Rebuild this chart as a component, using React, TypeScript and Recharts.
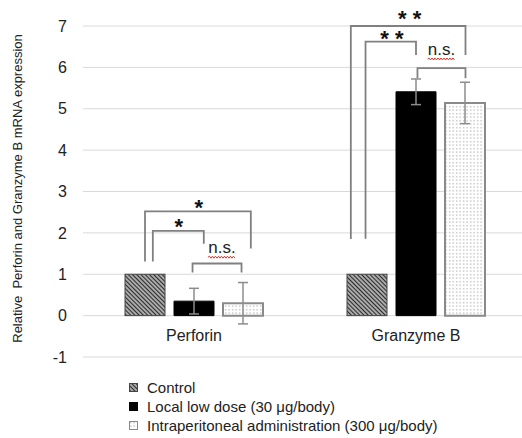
import React from 'react';
import { BarChart, Bar, XAxis, YAxis, CartesianGrid, ErrorBar, Legend } from 'recharts';

const categories = ['Perforin', 'Granzyme B'];
const controlValues = [1, 1];
const localValues = [0.35, 5.41];
const localErrors = [0.31, 0.31];
const ipValues = [0.3, 5.14];
const ipErrors = [0.5, 0.5];
const yTicks = [-1, 0, 1, 2, 3, 4, 5, 6, 7];
const seriesNames = [
  'Control',
  'Local low dose (30 μg/body)',
  'Intraperitoneal administration (300 μg/body)',
];

// significance brackets: ends in bar units (0 = control, 1 = local, 2 = i.p.), heights in data units
type Bracket = {
  from: number;
  to: number;
  top: number;
  dropFrom: number;
  dropTo: number;
  mark: string;
  markAt: number;
  markY: number;
};

const perforinBrackets: Bracket[] = [
  { from: 0, to: 2.16, top: 2.52, dropFrom: 1.31, dropTo: 1.62, mark: '*', markAt: 1.1, markY: 2.72 },
  { from: 0.16, to: 1.2, top: 2.05, dropFrom: 1.31, dropTo: 1.74, mark: '*', markAt: 0.69, markY: 2.27 },
  { from: 0.97, to: 1.97, top: 1.26, dropFrom: 1.04, dropTo: 1.04, mark: 'n.s.', markAt: 1.57, markY: 1.63 },
];

const granzymeBrackets: Bracket[] = [
  { from: -0.33, to: 2.01, top: 7.0, dropFrom: 1.85, dropTo: 6.3, mark: '* *', markAt: 0.87, markY: 7.29 },
  { from: -0.03, to: 1.0, top: 6.62, dropFrom: 1.86, dropTo: 6.3, mark: '* *', markAt: 0.51, markY: 6.81 },
  { from: 1.03, to: 2.01, top: 5.98, dropFrom: 5.74, dropTo: 5.74, mark: 'n.s.', markAt: 1.52, markY: 6.42 },
];

const data = categories.map((name, i) => ({
  name,
  control: controlValues[i],
  local: localValues[i],
  localErr: localErrors[i],
  ip: ipValues[i],
  ipErr: ipErrors[i],
}));

const fontFamily = '"Liberation Sans", Arial, sans-serif';
const BAR_SIZE = 40;
const BAR_GAP = 9;

const wavyPath = (x1: number, x2: number, y: number) => {
  let d = `M${x1},${y}`;
  let up = true;
  for (let x = x1 + 1.5; x <= x2; x += 1.5) {
    d += ` L${x},${y + (up ? -1 : 1)}`;
    up = !up;
  }
  return d;
};

const ControlBar = (props: any) => {
  const { x, y, width, height, payload } = props;
  if (!payload || !height) return <g />;
  const unit = height / payload.control;
  const base = y + height;
  const toY = (v: number) => base - v * unit;
  const toX = (pos: number) => x + width / 2 + pos * (width + BAR_GAP);
  const brackets = payload.name === 'Perforin' ? perforinBrackets : granzymeBrackets;

  return (
    <g>
      <rect x={x} y={y} width={width} height={height} fill="url(#hatch)" stroke="#444" strokeWidth={1} />
      {brackets.map((b, i) => {
        const isNs = b.mark === 'n.s.';
        const cx = toX(b.markAt);
        const cy = toY(b.markY);
        return (
          <g key={i}>
            <path
              d={`M${toX(b.from)},${toY(b.dropFrom)} V${toY(b.top)} H${toX(b.to)} V${toY(b.dropTo)}`}
              fill="none"
              stroke="#808080"
              strokeWidth={1.8}
            />
            {isNs ? (
              <g>
                <text x={cx} y={cy + 5} textAnchor="middle" fontSize={17} fontFamily={fontFamily} fill="#222">
                  {b.mark}
                </text>
                <path d={wavyPath(cx - 14, cx + 14, cy + 9)} fill="none" stroke="#e0342c" strokeWidth={1} />
              </g>
            ) : (
              <text
                x={cx}
                y={cy + 12}
                textAnchor="middle"
                fontSize={22}
                fontWeight="bold"
                fontFamily={fontFamily}
                fill="#111"
                style={{ whiteSpace: 'pre' }}
              >
                {b.mark}
              </text>
            )}
          </g>
        );
      })}
    </g>
  );
};

const CategoryTick = (props: any) => {
  const { x, y, payload } = props;
  return (
    <text x={x} y={y - 16} textAnchor="middle" fontSize={16} fontFamily={fontFamily} fill="#222">
      {payload.value}
    </text>
  );
};

const YLabel = (props: any) => {
  const vb = props.viewBox || { x: 0, y: 0, height: 0 };
  const cx = 17;
  const cy = vb.y + vb.height / 2 - 3;
  return (
    <text
      x={cx}
      y={cy}
      transform={`rotate(-90 ${cx} ${cy})`}
      textAnchor="middle"
      dominantBaseline="central"
      fontSize={13}
      fontFamily={fontFamily}
      fill="#222"
      style={{ whiteSpace: 'pre' }}
    >
      {'Relative  Perforin and Granzyme B mRNA expression'}
    </text>
  );
};

const iconFills = ['url(#hatch)', '#000', 'url(#dots)'];
const iconStrokes = ['#444', '#000', '#8a8a8a'];

const LegendContent = () => (
  <div style={{ fontFamily, fontSize: 15, color: '#222' }}>
    {seriesNames.map((n, i) => (
      <div key={n} style={{ display: 'flex', alignItems: 'center', height: 19 }}>
        <svg width={9} height={9} style={{ marginRight: 9, flexShrink: 0 }}>
          <rect x={0.5} y={0.5} width={8} height={8} fill={iconFills[i]} stroke={iconStrokes[i]} />
        </svg>
        <span style={{ whiteSpace: 'nowrap' }}>{n}</span>
      </div>
    ))}
  </div>
);

export default function App() {
  return (
    <div style={{ position: 'absolute', left: 0, top: 0, width: 522, height: 438, overflow: 'hidden', background: '#fff' }}>
      <svg width={0} height={0} style={{ position: 'absolute' }}>
        <defs>
          <pattern id="hatch" width="3" height="3" patternUnits="userSpaceOnUse" patternTransform="rotate(-45)">
            <rect width="3" height="3" fill="#fff" />
            <line x1="1.5" y1="0" x2="1.5" y2="3" stroke="#2a2a2a" strokeWidth="1.8" />
          </pattern>
          <pattern id="dots" width="3.5" height="3.5" patternUnits="userSpaceOnUse">
            <rect width="3.5" height="3.5" fill="#fff" />
            <rect x="1" y="1" width="1.3" height="1.3" fill="#b4b4b4" />
          </pattern>
        </defs>
      </svg>
      <BarChart
        width={527}
        height={438}
        data={data}
        margin={{ top: 26, right: 0, left: 0, bottom: 80 }}
        barSize={BAR_SIZE}
        barGap={BAR_GAP}
      >
        <CartesianGrid vertical={false} stroke="#d9d9d9" />
        <XAxis
          dataKey="name"
          axisLine={false}
          tickLine={false}
          tickSize={0}
          tickMargin={0}
          height={1}
          tick={<CategoryTick />}
          interval={0}
        />
        <YAxis
          domain={[-1, 7]}
          ticks={yTicks}
          axisLine={false}
          tickLine={false}
          tickSize={0}
          tickMargin={16}
          width={83}
          tick={{ fontSize: 16, fill: '#222', fontFamily }}
          label={<YLabel />}
        />
        <Legend
          layout="vertical"
          align="center"
          verticalAlign="middle"
          content={<LegendContent />}
          wrapperStyle={{ left: 129, top: 378, width: 390 }}
        />
        <Bar dataKey="control" name={seriesNames[0]} shape={<ControlBar />} isAnimationActive={false} />
        <Bar dataKey="local" name={seriesNames[1]} fill="#000" stroke="#000" isAnimationActive={false}>
          <ErrorBar dataKey="localErr" width={5} stroke="#8c8c8c" strokeWidth={1.5} />
        </Bar>
        <Bar dataKey="ip" name={seriesNames[2]} fill="url(#dots)" stroke="#8a8a8a" strokeWidth={2} isAnimationActive={false}>
          <ErrorBar dataKey="ipErr" width={5} stroke="#8c8c8c" strokeWidth={1.5} />
        </Bar>
      </BarChart>
    </div>
  );
}
